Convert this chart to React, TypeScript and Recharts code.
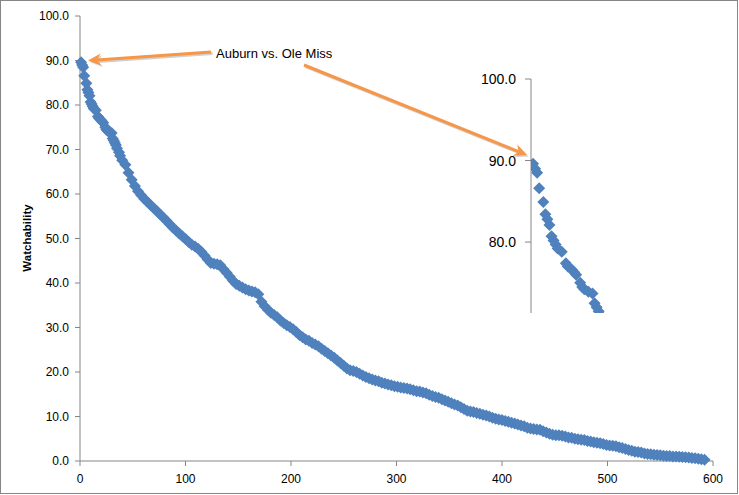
import React from 'react';
import { ScatterChart, Scatter, XAxis, YAxis } from 'recharts';

// game rank (x) and watchability score (y)
const ranks = [
  1, 2, 3, 4, 6, 7, 8, 9, 10, 11, 12, 13, 15, 17, 18, 20, 21, 22, 24, 25, 26, 28, 30, 31, 32, 33, 34, 35, 37, 38, 40,
  43, 46, 49, 52, 55, 58, 61, 64, 67, 70, 73, 76, 79, 82, 85, 88, 91, 94, 97, 100,
  103, 106, 109, 112, 115, 118, 121, 124, 127, 130, 133, 136, 139, 142, 145, 148, 151, 154, 157, 160,
  163, 166, 169, 172, 175, 178, 181, 184, 187, 190, 193, 196, 199, 202, 205, 208, 211, 214, 217, 220,
  223, 226, 229, 232, 235, 238, 241, 244, 247, 250, 253, 256, 259, 262, 265, 268, 271, 274, 277, 280,
  283, 286, 289, 292, 295, 298, 301, 304, 307, 310, 313, 316, 319, 322, 325, 328, 331, 334, 337, 340,
  343, 346, 349, 352, 355, 358, 361, 364, 367, 370, 373, 376, 379, 382, 385, 388, 391, 394, 397, 400,
  403, 406, 409, 412, 415, 418, 421, 424, 427, 430, 433, 436, 439, 442, 445, 448, 451, 454, 457, 460,
  463, 466, 469, 472, 475, 478, 481, 484, 487, 490, 493, 496, 499, 502, 505, 508, 511, 514, 517, 520,
  523, 526, 529, 532, 535, 538, 541, 544, 547, 550, 553, 556, 559, 562, 565, 568, 571, 574, 577, 580,
  583, 586, 589, 592,
];

const watchability = [
  89.6, 89.0, 88.5, 86.6, 84.9, 83.4, 82.8, 82.1, 80.7, 80.2, 79.7, 79.2, 78.8, 77.4, 77.0, 76.6, 76.3, 76.0, 75.0, 74.5, 74.2, 73.9, 73.7, 72.5, 72.0, 71.5, 71.0, 70.3, 69.4, 68.6, 67.6,
  66.6, 64.8, 63.2, 61.8, 60.6, 59.7, 58.9, 58.2, 57.5, 56.8, 56.1, 55.4, 54.7, 54.0, 53.2, 52.5, 51.8, 51.1, 50.5, 49.9,
  49.2, 48.6, 48.2, 47.7, 47.0, 46.2, 45.3, 44.5, 44.3, 44.2, 44.0, 43.1, 42.3, 41.4, 40.5, 39.8, 39.4, 39.0, 38.6, 38.3,
  38.1, 37.9, 37.5, 35.8, 34.8, 34.0, 33.3, 32.8, 32.3, 31.6, 31.0, 30.5, 30.1, 29.6, 29.0, 28.3, 27.8, 27.3, 27.0, 26.5,
  26.2, 25.8, 25.2, 24.7, 24.2, 23.7, 23.2, 22.6, 22.0, 21.4, 20.8, 20.4, 20.2, 20.0, 19.6, 19.2, 18.9, 18.6, 18.3, 18.1,
  17.9, 17.6, 17.4, 17.2, 17.0, 16.8, 16.7, 16.5, 16.4, 16.3, 16.1, 15.9, 15.7, 15.6, 15.4, 15.2, 14.9, 14.6, 14.4, 14.2,
  13.9, 13.6, 13.3, 13.0, 12.7, 12.5, 12.1, 11.7, 11.3, 11.1, 11.0, 10.8, 10.6, 10.4, 10.2, 10.0, 9.7, 9.5, 9.3, 9.2,
  9.0, 8.8, 8.6, 8.4, 8.2, 8.0, 7.8, 7.5, 7.3, 7.2, 7.1, 7.0, 6.7, 6.4, 6.1, 5.9, 5.8, 5.8, 5.7, 5.5,
  5.3, 5.2, 5.0, 4.9, 4.8, 4.7, 4.5, 4.4, 4.2, 4.1, 4.0, 3.8, 3.6, 3.5, 3.4, 3.3, 3.1, 2.9, 2.7, 2.5,
  2.3, 2.1, 2.0, 1.9, 1.7, 1.6, 1.5, 1.4, 1.35, 1.3, 1.2, 1.15, 1.1, 1.0, 1.0, 0.95, 0.9, 0.85, 0.8, 0.7,
  0.6, 0.5, 0.4, 0.3,
];

const xTicks = [0, 100, 200, 300, 400, 500, 600];
const yTicks = [0, 10, 20, 30, 40, 50, 60, 70, 80, 90, 100];
const insetTicks = [80, 90, 100];

const points = ranks.map((r, i) => ({ rank: r, watch: watchability[i] }));

const BLUE = '#4F81BD';
const ORANGE = '#F79646';
const AXIS = '#868686';
const FONT = '"Liberation Sans", Arial, sans-serif';

// Excel style square diamond marker
const Diamond = (props: any) => {
  const { cx, cy } = props;
  if (cx == null || cy == null) return null;
  const r = 6;
  return <path d={`M${cx},${cy - r}L${cx + r},${cy}L${cx},${cy + r}L${cx - r},${cy}Z`} fill={BLUE} />;
};

const fmt = (v: number) => v.toFixed(1);

// arrow from (x1,y1) to tip (x2,y2)
const Arrow = ({ x1, y1, x2, y2 }: { x1: number; y1: number; x2: number; y2: number }) => {
  const len = Math.hypot(x2 - x1, y2 - y1);
  const ux = (x2 - x1) / len;
  const uy = (y2 - y1) / len;
  const nx = -uy;
  const ny = ux;
  const L = 13;
  const W = 6;
  const bx = x2 - (L - 4) * ux;
  const by = y2 - (L - 4) * uy;
  const head = `M${x2},${y2}L${x2 - L * ux + W * nx},${y2 - L * uy + W * ny}L${bx},${by}L${x2 - L * ux - W * nx},${y2 - L * uy - W * ny}Z`;
  return (
    <g>
      <g transform="translate(1.5,1.5)" opacity={0.18}>
        <line x1={x1} y1={y1} x2={bx} y2={by} stroke="#000" strokeWidth={3} />
        <path d={head} fill="#000" />
      </g>
      <line x1={x1} y1={y1} x2={bx} y2={by} stroke={ORANGE} strokeWidth={3} />
      <path d={head} fill={ORANGE} />
    </g>
  );
};

export default function App() {
  return (
    <div style={{ position: 'relative', width: 739, height: 495, background: '#fff', fontFamily: FONT }}>
      <style>{'body{margin:0}'}</style>
      <div
        style={{
          position: 'absolute',
          left: 0,
          top: 0,
          width: 738,
          height: 494,
          border: `1px solid ${AXIS}`,
          boxSizing: 'border-box',
        }}
      />

      {/* main chart */}
      <div style={{ position: 'absolute', left: 0, top: 0 }}>
        <ScatterChart width={739} height={495} margin={{ top: 16, right: 26, left: 0, bottom: 0 }}>
          <XAxis
            type="number"
            dataKey="rank"
            domain={[0, 600]}
            ticks={xTicks}
            interval={0}
            height={34}
            stroke={AXIS}
            tickSize={5}
            tickMargin={8}
            tick={{ fill: '#000', fontSize: 12, fontFamily: FONT }}
          />
          <YAxis
            type="number"
            dataKey="watch"
            domain={[0, 100]}
            ticks={yTicks}
            interval={0}
            width={80}
            stroke={AXIS}
            tickSize={5}
            tickMargin={6}
            tickFormatter={fmt}
            tick={{ fill: '#000', fontSize: 12, fontFamily: FONT }}
          />
          <Scatter data={points} shape={<Diamond />} isAnimationActive={false} />
        </ScatterChart>
      </div>

      {/* zoomed inset of the top games */}
      <div style={{ position: 'absolute', left: 0, top: 0 }}>
        <ScatterChart width={739} height={495} margin={{ top: 79, right: 44, left: 471, bottom: 182 }}>
          <XAxis type="number" dataKey="rank" domain={[0, 80]} allowDataOverflow hide />
          <YAxis
            type="number"
            dataKey="watch"
            domain={[71.3, 100]}
            allowDataOverflow
            ticks={insetTicks}
            interval={0}
            width={60}
            stroke={AXIS}
            tickSize={6}
            tickMargin={9}
            tickFormatter={fmt}
            tick={{ fill: '#000', fontSize: 14, fontFamily: FONT }}
          />
          <Scatter data={points} shape={<Diamond />} isAnimationActive={false} />
        </ScatterChart>
      </div>

      {/* annotation */}
      <svg width={739} height={495} style={{ position: 'absolute', left: 0, top: 0, pointerEvents: 'none' }}>
        <text
          transform="translate(31,238) rotate(-90)"
          textAnchor="middle"
          fontSize={11.5}
          fontWeight="bold"
          fontFamily={FONT}
          fill="#000"
        >
          Watchability
        </text>
        <text x={216} y={58} fontSize={13} fontFamily={FONT} fill="#000">
          Auburn vs. Ole Miss
        </text>
        <Arrow x1={211} y1={52} x2={88} y2={60.5} />
        <Arrow x1={304} y1={65} x2={527} y2={155} />
      </svg>
    </div>
  );
}
